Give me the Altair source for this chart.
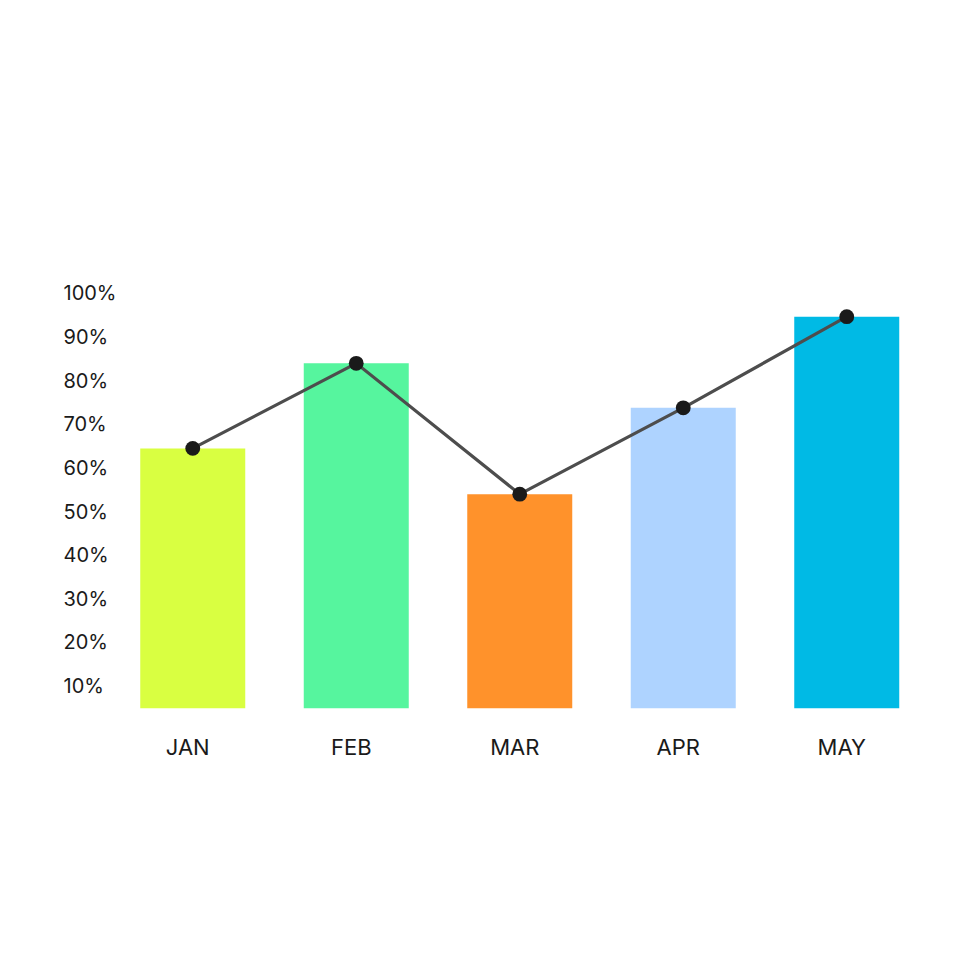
import altair as alt
import pandas as pd

months = ["JAN", "FEB", "MAR", "APR", "MAY"]
values = [64.6, 84.1, 54.1, 73.9, 94.8]
colors = ["#D9FF41", "#56F59E", "#FF922B", "#AED3FF", "#00BAE5"]
y_ticks = [10, 20, 30, 40, 50, 60, 70, 80, 90, 100]

df = pd.DataFrame({"month": months, "value": values})

x_enc = alt.X(
    "month:N",
    sort=months,
    scale=alt.Scale(paddingInner=0, paddingOuter=0),
    axis=alt.Axis(
        title=None, domain=False, ticks=False, tickSize=0, grid=False,
        labelAngle=0, labelFont="Inter", labelFontSize=22, labelColor="#1a1a1a",
        labelPadding=29, labelOffset=-5,
    ),
)
y_scale = alt.Scale(domain=[5, 100], nice=False, zero=False)

base = alt.Chart(df).encode(x=x_enc)

bars = base.mark_bar(size=105).encode(
    y=alt.Y(
        "value:Q",
        scale=y_scale,
        axis=alt.Axis(
            title=None, domain=False, ticks=False, tickSize=0, grid=False,
            values=y_ticks, labelExpr="datum.value + '%'",
            labelAlign="left", labelBaseline="middle", labelPadding=48,
            labelFont="Inter", labelFontSize=20, labelColor="#1a1a1a",
        ),
    ),
    y2=alt.datum(5),
    color=alt.Color("month:N", scale=alt.Scale(domain=months, range=colors), legend=None),
)

line = base.mark_line(color="#4d4d4d", strokeWidth=3.2).encode(
    y=alt.Y("value:Q", scale=y_scale)
)
points = base.mark_circle(size=220, color="#1a1a1a", opacity=1).encode(
    y=alt.Y("value:Q", scale=y_scale)
)

chart = (
    alt.layer(bars, line, points)
    .properties(
        width=817.5,
        height=414.3,
        autosize=alt.AutoSizeParams(type="none"),
        padding={"left": 103, "top": 286, "right": 40, "bottom": 100},
    )
    .configure_view(stroke=None)
)

chart.save("out.html", embed_options={"renderer": "svg", "actions": False})
